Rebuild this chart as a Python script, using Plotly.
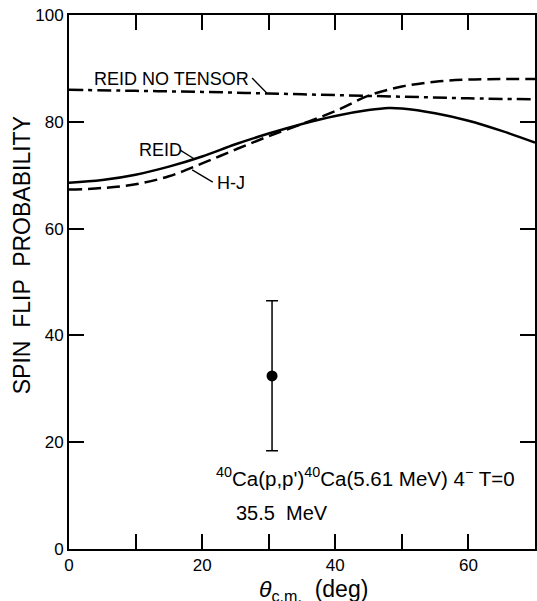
import plotly.graph_objects as go

theta = [0, 5, 10, 15, 20, 25, 30, 35, 40, 45, 48, 50, 55, 60, 65, 70]
reid = [68.6, 69.1, 70.1, 71.6, 73.5, 75.8, 77.8, 79.6, 81.1, 82.2, 82.6, 82.5, 81.6, 80.2, 78.3, 76.1]

theta_hj = [0, 5, 10, 15, 20, 25, 30, 35, 40, 45, 50, 55, 60, 65, 70]
hj = [67.3, 67.6, 68.3, 69.8, 72.2, 74.8, 77.3, 79.6, 82.0, 84.9, 86.6, 87.5, 87.9, 88.0, 88.0]

theta_nt = [0, 10, 20, 30, 40, 50, 60, 70]
reid_no_tensor = [86.0, 85.8, 85.6, 85.3, 85.0, 84.7, 84.4, 84.2]

exp_theta = [30.5]
exp_sf = [32.4]
exp_err_plus = [14.1]
exp_err_minus = [14.0]

x_tickvals = [0, 10, 20, 30, 40, 50, 60]
x_ticktext = ["0", "", "20", "", "40", "", "60"]
y_tickvals = [0, 20, 40, 60, 80, 100]

FONT2 = "Liberation Sans, Arial, sans-serif"

fig = go.Figure()
fig.add_trace(go.Scatter(x=theta, y=reid, mode="lines", line=dict(color="black", width=2.5, shape="spline"), name="REID"))
fig.add_trace(go.Scatter(x=theta_hj, y=hj, mode="lines", line=dict(color="black", width=2.5, dash="13px,6px", shape="spline"), name="H-J"))
fig.add_trace(go.Scatter(x=theta_nt, y=reid_no_tensor, mode="lines", line=dict(color="black", width=2.5, dash="14px,5px,4px,5px", shape="spline"), name="REID NO TENSOR"))
fig.add_trace(go.Scatter(x=exp_theta, y=exp_sf, mode="markers",
                         marker=dict(color="black", size=11),
                         error_y=dict(type="data", symmetric=False, array=exp_err_plus, arrayminus=exp_err_minus,
                                      color="black", thickness=1.5, width=6)))

axis_common = dict(showline=True, linecolor="black", linewidth=2, mirror="ticks", ticks="inside",
                   ticklen=15, tickwidth=1.5, tickcolor="black", showgrid=False, zeroline=False,
                   automargin=False, tickfont=dict(family=FONT2, size=17, color="black"))

fig.update_xaxes(range=[0, 70], tickmode="array", tickvals=x_tickvals, ticktext=x_ticktext, **axis_common)
fig.update_yaxes(range=[0, 100], tickmode="array", tickvals=y_tickvals, **axis_common)

ann = []
ann.append(dict(text="REID NO TENSOR", x=3.4, y=88.1, xref="x", yref="y", xanchor="left", yanchor="middle",
                showarrow=False, font=dict(family=FONT2, size=18, color="black")))
ann.append(dict(text="REID", x=10.2, y=74.7, xref="x", yref="y", xanchor="left", yanchor="middle",
                showarrow=False, font=dict(family=FONT2, size=18, color="black")))
ann.append(dict(text="H-J", x=21.9, y=68.6, xref="x", yref="y", xanchor="left", yanchor="middle",
                showarrow=False, font=dict(family=FONT2, size=18, color="black")))
ann.append(dict(text="<sup>40</sup>Ca(p,p')<sup>40</sup>Ca(5.61 MeV) 4<sup>−</sup> T=0", x=21.8, y=13.5, xref="x", yref="y",
                xanchor="left", yanchor="middle", showarrow=False, font=dict(family=FONT2, size=20.5, color="black")))
ann.append(dict(text="35.5  MeV", x=24.8, y=6.8, xref="x", yref="y", xanchor="left", yanchor="middle",
                showarrow=False, font=dict(family=FONT2, size=20, color="black")))
ann.append(dict(text="SPIN  FLIP  PROBABILITY", x=-0.101, y=0.55, xref="paper", yref="paper", textangle=-90,
                xanchor="center", yanchor="middle", showarrow=False, font=dict(family=FONT2, size=23, color="black")))
ann.append(dict(text="<i>θ</i><sub>c.m.</sub>  (deg)", x=0.525, y=-0.047, xref="paper", yref="paper",
                xanchor="center", yanchor="top", showarrow=False, font=dict(family=FONT2, size=23, color="black")))

shapes = [
    dict(type="line", xref="x", yref="y", x0=27.5, y0=88.2, x1=29.7, y1=85.4, line=dict(color="black", width=1.3)),
    dict(type="line", xref="x", yref="y", x0=16.7, y0=74.7, x1=18.9, y1=73.0, line=dict(color="black", width=1.3)),
    dict(type="line", xref="x", yref="y", x0=18.5, y0=71.0, x1=21.6, y1=68.7, line=dict(color="black", width=1.3)),
]

fig.update_layout(width=537, height=601, margin=dict(l=69, r=2, t=15, b=52),
                  plot_bgcolor="white", paper_bgcolor="white", showlegend=False,
                  annotations=ann, shapes=shapes)

fig.write_html("out.html", config={"displayModeBar": False},
               post_script="document.body.style.margin='0';document.documentElement.style.overflow='hidden';document.body.style.overflow='hidden';")
